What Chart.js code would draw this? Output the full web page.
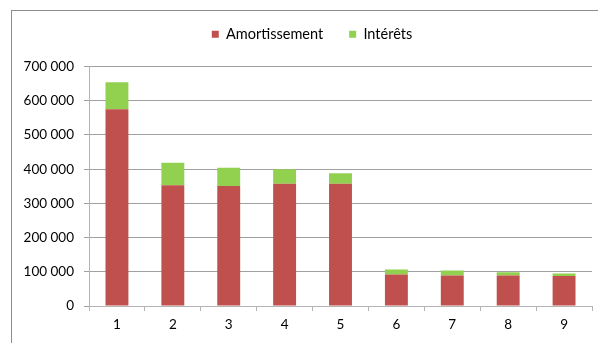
<!DOCTYPE html>
<html>
<head>
<meta charset="utf-8">
<script src="https://cdn.jsdelivr.net/npm/chart.js@4/dist/chart.umd.min.js"></script>
<style>
  html, body { margin: 0; padding: 0; background: #fff; }
  #wrap { position: relative; width: 598px; height: 343px; }
</style>
</head>
<body>
<div id="wrap"><canvas id="chart"></canvas></div>
<script>
// values
const periods = ['1', '2', '3', '4', '5', '6', '7', '8', '9'];
const amortissement = [575000, 353000, 351000, 357000, 357000, 92000, 89000, 89000, 88000];
const interets = [79000, 66000, 53000, 43000, 31000, 15000, 15000, 10000, 7000];
const yMax = 700000;
const yStep = 100000;

const FONT = 'Lato, "Open Sans", sans-serif';

// outer frame of the chart object (cut off at the right and bottom)
const framePlugin = {
    id: 'frame',
    beforeInit(chart) {
        // leave more room under the legend and push it a bit to the right
        const legend = chart.legend;
        if (legend) {
            const fit = legend.fit;
            legend.fit = function () {
                fit.call(this);
                this.height += 15;
            };
            const draw = legend.draw;
            legend.draw = function () {
                this.ctx.save();
                this.ctx.translate(16, 0);
                draw.call(this);
                this.ctx.restore();
            };
        }
    },
    beforeDraw(chart) {
        const ctx = chart.ctx;
        ctx.save();
        ctx.strokeStyle = '#8c8c8c';
        ctx.lineWidth = 1;
        ctx.strokeRect(11.5, 10.5, 800, 500);
        ctx.restore();
    }
};

function frNumber(v) {
    return String(v).replace(/\B(?=(\d{3})+(?!\d))/g, ' ');
}

const ctx = document.getElementById('chart').getContext('2d');
new Chart(ctx, {
    type: 'bar',
    data: {
        labels: periods,
        datasets: [
            {
                label: 'Amortissement',
                data: amortissement,
                backgroundColor: '#C0504D',
                borderWidth: 0
            },
            {
                label: 'Intérêts',
                data: interets,
                backgroundColor: '#92D050',
                borderWidth: 0
            }
        ]
    },
    options: {
        responsive: true,
        maintainAspectRatio: false,
        animation: false,
        datasets: {
            bar: { categoryPercentage: 1, barPercentage: 0.41 }
        },
        layout: {
            padding: { top: 1, right: 6, bottom: 0, left: 0 }
        },
        scales: {
            x: {
                stacked: true,
                afterFit: (s) => { s.height = 37; },
                grid: {
                    drawOnChartArea: false,
                    drawTicks: true,
                    tickLength: 5,
                    color: '#b4b4b4'
                },
                border: { color: '#b4b4b4' },
                ticks: {
                    color: '#000',
                    padding: 6,
                    font: { family: FONT, size: 13.5 }
                }
            },
            y: {
                stacked: true,
                min: 0,
                max: yMax,
                afterFit: (s) => { s.width = 89; },
                grid: {
                    color: '#a0a0a0',
                    tickLength: 5
                },
                border: { color: '#b4b4b4' },
                ticks: {
                    stepSize: yStep,
                    color: '#000',
                    padding: 10,
                    font: { family: FONT, size: 13.5 },
                    callback: (v) => frNumber(v)
                }
            }
        },
        plugins: {
            legend: {
                position: 'top',
                labels: {
                    boxWidth: 7,
                    boxHeight: 7,
                    padding: 26,
                    color: '#000',
                    font: { family: FONT, size: 14.5 }
                }
            },
            tooltip: { enabled: false }
        }
    },
    plugins: [framePlugin]
});
</script>
</body>
</html>
